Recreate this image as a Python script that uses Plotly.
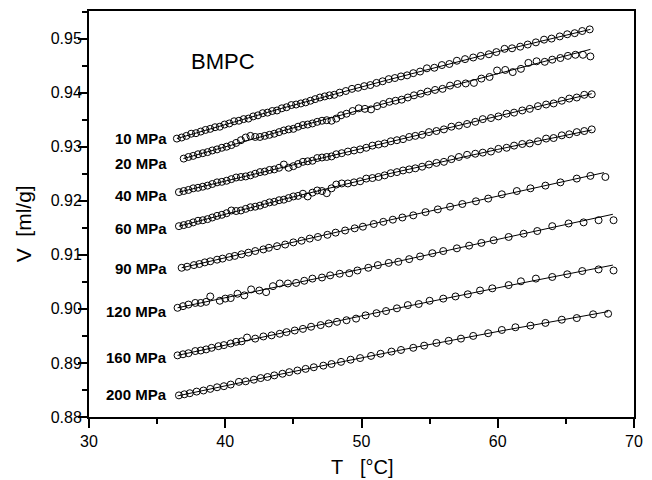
import plotly.graph_objects as go

# ---------------- data ----------------
# 10 MPa
T_10 = [36.45, 36.8, 37.15, 37.5, 37.85, 38.2, 38.55, 38.9, 39.25, 39.6, 39.95, 40.3, 40.65, 41.0, 41.35,
        41.7, 42.05, 42.4, 42.75, 43.1, 43.45, 43.8, 44.15, 44.5, 44.85, 45.2, 45.55, 45.9, 46.25, 46.6,
        46.95, 47.3, 47.65, 48.0, 48.4, 48.85, 49.3, 49.75, 50.2, 50.65, 51.1, 51.55, 52.0, 52.45, 52.9,
        53.35, 53.8, 54.3, 54.8, 55.35, 55.9, 56.45, 57.0, 57.6, 58.2, 58.75, 59.35, 59.9, 60.5, 61.05,
        61.65, 62.2, 62.8, 63.4, 63.95, 64.55, 65.1, 65.65, 66.2, 66.75]
V_10 = [0.9315, 0.9317, 0.9320, 0.9324, 0.9325, 0.9328, 0.9331, 0.9333, 0.9336, 0.9337, 0.9341, 0.9343,
        0.9347, 0.9348, 0.9351, 0.9352, 0.9356, 0.9358, 0.9362, 0.9363, 0.9366, 0.9367, 0.9371, 0.9373,
        0.9377, 0.9378, 0.9380, 0.9382, 0.9385, 0.9388, 0.9391, 0.9393, 0.9395, 0.9396, 0.9400, 0.9403,
        0.9407, 0.9409, 0.9412, 0.9414, 0.9418, 0.9421, 0.9425, 0.9427, 0.9430, 0.9432, 0.9436, 0.9439,
        0.9445, 0.9446, 0.9451, 0.9453, 0.9459, 0.9462, 0.9465, 0.9468, 0.9471, 0.9475, 0.9481, 0.9482,
        0.9485, 0.9489, 0.9493, 0.9498, 0.9500, 0.9504, 0.9508, 0.9510, 0.9514, 0.9517]
FIT_T_10 = [36.45, 44.0, 52.0, 60.0, 66.8]
FIT_V_10 = [0.9315, 0.9370, 0.9424, 0.9476, 0.9517]

# 20 MPa
T_20 = [36.95, 37.3, 37.65, 38.0, 38.35, 38.7, 39.05, 39.4, 39.75, 40.1, 40.45, 40.8, 41.15, 41.5, 41.85,
        42.2, 42.55, 42.9, 43.25, 43.6, 43.95, 44.3, 44.65, 45.0, 45.35, 45.7, 46.05, 46.4, 46.75, 47.1,
        47.45, 47.8, 48.15, 48.5, 48.9, 49.35, 49.8, 50.25, 50.7, 51.15, 51.6, 52.05, 52.5, 52.95, 53.4,
        53.85, 54.35, 54.85, 55.4, 55.95, 56.5, 57.05, 57.65, 58.25, 58.8, 59.4, 59.95, 60.55, 61.1, 61.7,
        62.25, 62.85, 63.45, 64.0, 64.6, 65.15, 65.7, 66.25, 66.8]
V_20 = [0.9278, 0.9281, 0.9283, 0.9286, 0.9288, 0.9290, 0.9293, 0.9295, 0.9298, 0.9300, 0.9303, 0.9307,
        0.9312, 0.9317, 0.9320, 0.9318, 0.9318, 0.9320, 0.9322, 0.9324, 0.9327, 0.9330, 0.9332, 0.9333,
        0.9337, 0.9340, 0.9341, 0.9343, 0.9346, 0.9348, 0.9349, 0.9348, 0.9352, 0.9358, 0.9361, 0.9366,
        0.9371, 0.9370, 0.9369, 0.9375, 0.9379, 0.9383, 0.9385, 0.9387, 0.9391, 0.9395, 0.9398, 0.9402,
        0.9405, 0.9407, 0.9413, 0.9416, 0.9417, 0.9418, 0.9426, 0.9429, 0.9441, 0.9442, 0.9438, 0.9444,
        0.9455, 0.9458, 0.9457, 0.9461, 0.9464, 0.9468, 0.9470, 0.9470, 0.9467]
FIT_T_20 = [36.93, 44.0, 52.0, 59.5, 66.8]
FIT_V_20 = [0.9278, 0.9328, 0.9382, 0.9432, 0.9480]

# 40 MPa
T_40 = [36.6, 36.95, 37.3, 37.65, 38.0, 38.35, 38.7, 39.05, 39.4, 39.75, 40.1, 40.45, 40.8, 41.15, 41.5,
        41.85, 42.2, 42.55, 42.9, 43.25, 43.6, 43.95, 44.3, 44.65, 45.0, 45.35, 45.7, 46.05, 46.4, 46.75,
        47.1, 47.45, 47.8, 48.15, 48.55, 49.0, 49.45, 49.9, 50.35, 50.8, 51.25, 51.7, 52.15, 52.6, 53.05,
        53.5, 53.95, 54.45, 54.95, 55.5, 56.05, 56.6, 57.15, 57.75, 58.35, 58.9, 59.5, 60.05, 60.65, 61.2,
        61.8, 62.35, 62.95, 63.55, 64.1, 64.7, 65.25, 65.8, 66.35, 66.9]
V_40 = [0.9216, 0.9218, 0.9220, 0.9223, 0.9224, 0.9226, 0.9228, 0.9231, 0.9234, 0.9235, 0.9237, 0.9240,
        0.9243, 0.9244, 0.9245, 0.9247, 0.9250, 0.9253, 0.9254, 0.9257, 0.9258, 0.9261, 0.9267, 0.9261,
        0.9264, 0.9268, 0.9272, 0.9273, 0.9274, 0.9279, 0.9280, 0.9281, 0.9282, 0.9286, 0.9288, 0.9291,
        0.9293, 0.9295, 0.9298, 0.9302, 0.9304, 0.9306, 0.9310, 0.9312, 0.9314, 0.9318, 0.9320, 0.9322,
        0.9327, 0.9329, 0.9332, 0.9337, 0.9339, 0.9342, 0.9346, 0.9351, 0.9353, 0.9356, 0.9361, 0.9363,
        0.9367, 0.9370, 0.9375, 0.9378, 0.9380, 0.9385, 0.9389, 0.9391, 0.9396, 0.9397]
FIT_T_40 = [36.6, 51.75, 66.9]
FIT_V_40 = [0.9216, 0.9307, 0.9398]

# 60 MPa
T_60 = [36.6, 36.95, 37.3, 37.65, 38.0, 38.35, 38.7, 39.05, 39.4, 39.75, 40.1, 40.45, 40.8, 41.15, 41.5,
        41.85, 42.2, 42.55, 42.9, 43.25, 43.6, 43.95, 44.3, 44.65, 45.0, 45.35, 45.7, 46.05, 46.4, 46.75,
        47.1, 47.45, 47.8, 48.15, 48.55, 49.0, 49.45, 49.9, 50.35, 50.8, 51.25, 51.7, 52.15, 52.6, 53.05,
        53.5, 53.95, 54.45, 54.95, 55.5, 56.05, 56.6, 57.15, 57.75, 58.35, 58.9, 59.5, 60.05, 60.65, 61.2,
        61.8, 62.35, 62.95, 63.55, 64.1, 64.7, 65.25, 65.8, 66.35, 66.9]
V_60 = [0.9153, 0.9155, 0.9157, 0.9160, 0.9163, 0.9164, 0.9166, 0.9169, 0.9172, 0.9174, 0.9177, 0.9182,
        0.9181, 0.9182, 0.9185, 0.9188, 0.9189, 0.9191, 0.9194, 0.9197, 0.9198, 0.9201, 0.9202, 0.9205,
        0.9208, 0.9209, 0.9213, 0.9208, 0.9215, 0.9219, 0.9218, 0.9214, 0.9223, 0.9230, 0.9232, 0.9232,
        0.9234, 0.9236, 0.9241, 0.9242, 0.9244, 0.9247, 0.9251, 0.9253, 0.9256, 0.9258, 0.9260, 0.9263,
        0.9267, 0.9270, 0.9272, 0.9277, 0.9281, 0.9285, 0.9287, 0.9289, 0.9291, 0.9296, 0.9298, 0.9302,
        0.9305, 0.9306, 0.9310, 0.9315, 0.9316, 0.9321, 0.9323, 0.9327, 0.9329, 0.9332]
FIT_T_60 = [36.6, 44.0, 52.0, 60.0, 66.9]
FIT_V_60 = [0.9153, 0.9201, 0.9250, 0.9295, 0.9331]

# 90 MPa
T_90 = [36.8, 37.2, 37.7, 38.1, 38.5, 38.9, 39.4, 39.8, 40.3, 40.7, 41.2, 41.7, 42.2, 42.8, 43.2, 43.8,
        44.4, 45.0, 45.6, 46.2, 46.8, 47.5, 48.1, 48.8, 49.5, 50.1, 50.9, 51.6, 52.3, 53.0, 53.8, 54.7,
        55.6, 56.5, 57.4, 58.4, 59.3, 60.3, 61.4, 62.4, 63.5, 64.6, 65.8, 66.8, 67.9]
V_90 = [0.9076, 0.9078, 0.9081, 0.9083, 0.9086, 0.9088, 0.9091, 0.9093, 0.9096, 0.9098, 0.9101, 0.9104,
        0.9107, 0.9110, 0.9113, 0.9116, 0.9119, 0.9123, 0.9126, 0.9130, 0.9133, 0.9137, 0.9141, 0.9145,
        0.9149, 0.9152, 0.9157, 0.9161, 0.9165, 0.9169, 0.9173, 0.9179, 0.9184, 0.9189, 0.9194, 0.9199,
        0.9204, 0.9212, 0.9218, 0.9223, 0.9228, 0.9234, 0.9241, 0.9246, 0.9244]
FIT_T_90 = [36.8, 52.0, 67.8]
FIT_V_90 = [0.9076, 0.9164, 0.9252]

# 120 MPa
T_120 = [36.5, 36.9, 37.3, 37.8, 38.2, 38.6, 38.9, 39.6, 40.0, 40.4, 40.9, 41.4, 41.9, 42.5, 43.0, 43.5,
         44.0, 44.6, 45.2, 45.8, 46.4, 47.1, 47.7, 48.4, 49.1, 49.7, 50.5, 51.2, 52.0, 52.7, 53.5, 54.3,
         55.2, 56.0, 57.0, 57.9, 58.8, 59.7, 60.8, 61.9, 62.9, 64.0, 65.2, 66.3, 67.4, 68.5]
V_120 = [0.9002, 0.9005, 0.9008, 0.9011, 0.9011, 0.9013, 0.9023, 0.9015, 0.9019, 0.9020, 0.9028, 0.9025,
         0.9036, 0.9034, 0.9031, 0.9042, 0.9047, 0.9047, 0.9048, 0.9052, 0.9056, 0.9058, 0.9062, 0.9065,
         0.9066, 0.9071, 0.9076, 0.9081, 0.9085, 0.9087, 0.9092, 0.9097, 0.9103, 0.9107, 0.9112, 0.9117,
         0.9122, 0.9127, 0.9133, 0.9139, 0.9144, 0.9153, 0.9158, 0.9160, 0.9164, 0.9164]
FIT_T_120 = [36.5, 44.5, 52.7, 60.8, 68.45]
FIT_V_120 = [0.9002, 0.9045, 0.9088, 0.9133, 0.9175]

# 160 MPa
T_160 = [36.5, 36.9, 37.3, 37.8, 38.2, 38.6, 39.0, 39.5, 39.9, 40.4, 40.8, 41.2, 41.6, 42.2, 42.8, 43.4,
         44.0, 44.5, 45.1, 45.7, 46.3, 47.0, 47.6, 48.2, 48.9, 49.6, 50.3, 51.1, 51.8, 52.6, 53.4, 54.2,
         55.0, 56.0, 56.9, 57.8, 58.7, 59.6, 60.8, 61.7, 62.8, 64.0, 65.1, 66.2, 67.4, 68.5]
V_160 = [0.8914, 0.8916, 0.8918, 0.8922, 0.8923, 0.8925, 0.8928, 0.8931, 0.8933, 0.8936, 0.8939, 0.8940,
         0.8947, 0.8945, 0.8949, 0.8951, 0.8954, 0.8957, 0.8960, 0.8963, 0.8967, 0.8970, 0.8973, 0.8976,
         0.8979, 0.8982, 0.8988, 0.8992, 0.8996, 0.9001, 0.9007, 0.9009, 0.9015, 0.9019, 0.9023, 0.9027,
         0.9034, 0.9038, 0.9044, 0.9051, 0.9056, 0.9059, 0.9064, 0.9070, 0.9073, 0.9071]
FIT_T_160 = [36.5, 44.5, 52.6, 60.6, 68.45]
FIT_V_160 = [0.8914, 0.8957, 0.9001, 0.9042, 0.9081]

# 200 MPa
T_200 = [36.6, 37.0, 37.4, 37.9, 38.4, 38.9, 39.4, 39.9, 40.4, 41.0, 41.5, 42.1, 42.6, 43.1, 43.6, 44.2,
         44.7, 45.3, 45.9, 46.5, 47.2, 47.8, 48.5, 49.2, 49.9, 50.7, 51.4, 52.2, 52.9, 53.8, 54.6, 55.5,
         56.4, 57.3, 58.2, 59.3, 60.3, 61.3, 62.4, 63.5, 64.7, 65.8, 67.0, 68.1]
V_200 = [0.8840, 0.8842, 0.8844, 0.8847, 0.8849, 0.8852, 0.8855, 0.8857, 0.8860, 0.8865, 0.8866, 0.8869,
         0.8872, 0.8874, 0.8877, 0.8880, 0.8883, 0.8886, 0.8889, 0.8892, 0.8895, 0.8898, 0.8902, 0.8906,
         0.8909, 0.8913, 0.8917, 0.8921, 0.8924, 0.8928, 0.8932, 0.8937, 0.8941, 0.8945, 0.8950, 0.8955,
         0.8961, 0.8966, 0.8969, 0.8974, 0.8980, 0.8983, 0.8990, 0.8991]
FIT_T_200 = [36.5, 44.6, 52.7, 60.4, 68.1]
FIT_V_200 = [0.8839, 0.8882, 0.8923, 0.8960, 0.8995]

PRESSURE_LABELS = ["10 MPa", "20 MPa", "40 MPa", "60 MPa", "90 MPa", "120 MPa", "160 MPa", "200 MPa"]
LABEL_V = [0.93156, 0.92694, 0.92102, 0.91491, 0.90751, 0.89955, 0.89105, 0.88420]
LABEL_T = 35.9

X_TICKS = [30, 40, 50, 60, 70]
Y_TICKS = [0.88, 0.89, 0.90, 0.91, 0.92, 0.93, 0.94, 0.95]

# ---------------- figure ----------------
FONT = "Liberation Sans, Arial, Helvetica, sans-serif"
series = [
    (T_10, V_10, FIT_T_10, FIT_V_10),
    (T_20, V_20, FIT_T_20, FIT_V_20),
    (T_40, V_40, FIT_T_40, FIT_V_40),
    (T_60, V_60, FIT_T_60, FIT_V_60),
    (T_90, V_90, FIT_T_90, FIT_V_90),
    (T_120, V_120, FIT_T_120, FIT_V_120),
    (T_160, V_160, FIT_T_160, FIT_V_160),
    (T_200, V_200, FIT_T_200, FIT_V_200),
]

fig = go.Figure()
for t, v, ft, fv in series:
    fig.add_trace(go.Scatter(x=ft, y=fv, mode="lines",
                             line=dict(color="black", width=1),
                             showlegend=False, hoverinfo="skip"))
    fig.add_trace(go.Scatter(x=t, y=v, mode="markers",
                             marker=dict(symbol="circle-open", size=7, color="black",
                                         line=dict(width=1)),
                             showlegend=False))

annotations = []
for lab, yv in zip(PRESSURE_LABELS, LABEL_V):
    annotations.append(dict(x=LABEL_T, y=yv, xref="x", yref="y", text="<b>" + lab + "</b>",
                            showarrow=False, xanchor="right", yanchor="middle",
                            font=dict(family=FONT, size=15, color="black")))
annotations.append(dict(x=39.8, y=0.9457, xref="x", yref="y", text="BMPC", showarrow=False,
                        xanchor="center", yanchor="middle",
                        font=dict(family=FONT, size=22, color="black")))
annotations.append(dict(x=0.5, y=-0.123, xref="paper", yref="paper",
                        text="T\u00a0\u00a0 [°C]", showarrow=False,
                        xanchor="center", yanchor="middle",
                        font=dict(family=FONT, size=20, color="black")))
annotations.append(dict(x=-0.121, y=0.4746, xref="paper", yref="paper",
                        text="V\u00a0 [ml/g]", showarrow=False, textangle=-90,
                        xanchor="center", yanchor="middle",
                        font=dict(family=FONT, size=21, color="black")))

axis_common = dict(showline=True, linecolor="black", linewidth=2, mirror=True,
                   ticks="outside", ticklen=9, tickwidth=1.5, tickcolor="black",
                   showgrid=False, zeroline=False,
                   tickfont=dict(family=FONT, size=16, color="black"))

fig.update_layout(
    width=652, height=480,
    margin=dict(l=89, r=9, t=11, b=63),
    paper_bgcolor="white", plot_bgcolor="white",
    font=dict(family=FONT, color="black"),
    annotations=annotations,
    xaxis=dict(range=[30, 70], tickvals=X_TICKS,
               minor=dict(dtick=5, tick0=30, ticks="outside", ticklen=5, tickwidth=1.5,
                          tickcolor="black", showgrid=False),
               **axis_common),
    yaxis=dict(range=[0.88, 0.9551], tickvals=Y_TICKS, tickformat=".2f", ticklabelstandoff=-7,
               minor=dict(dtick=0.005, tick0=0.88, ticks="outside", ticklen=5, tickwidth=1.5,
                          tickcolor="black", showgrid=False),
               **axis_common),
)

fig.write_html("out.html")
